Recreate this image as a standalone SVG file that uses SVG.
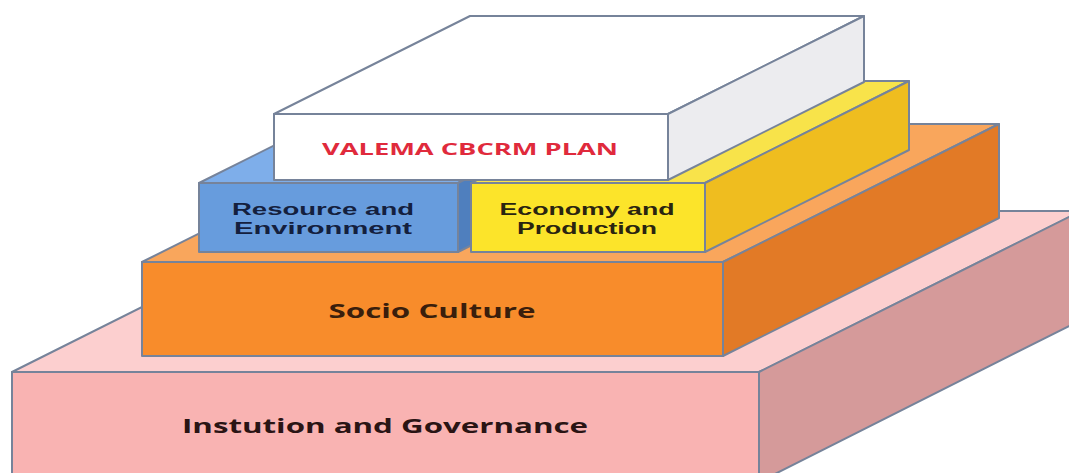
<svg xmlns="http://www.w3.org/2000/svg" width="1069" height="473" viewBox="0 0 1069 473">
  <style>
    .edge { stroke: #76839a; stroke-width: 2; stroke-linejoin: round; }
    .lbl { font-family: "Open Sans", "Liberation Sans", sans-serif; font-weight: bold; text-anchor: middle; }
    .lbl2 { font-family: "Liberation Sans", Arial, sans-serif; font-weight: bold; text-anchor: middle; font-size: 16px; }
  </style>
  <rect width="1069" height="473" fill="#ffffff"/>

  <!-- Base layer: institution and governance -->
  <g id="institution">
    <polygon class="edge" fill="#fccfcf" points="12,372 759,372 1081,211 334,211"/>
    <polygon class="edge" fill="#d59a9a" points="759,372 1081,211 1081,320 759,482"/>
    <polygon class="edge" fill="#f9b3b2" points="12,372 759,372 759,482 12,482"/>
    <text class="lbl" x="385" y="433" font-size="19" fill="#2a1414" textLength="406" lengthAdjust="spacingAndGlyphs">Instution and Governance</text>
  </g>

  <!-- Second layer: socio culture -->
  <g id="socio-culture">
    <polygon class="edge" fill="#f9a65c" points="142,262 723,262 999,124 418,124"/>
    <polygon class="edge" fill="#e27a26" points="723,262 999,124 999,218 723,356"/>
    <polygon class="edge" fill="#f88c2b" points="142,262 723,262 723,356 142,356"/>
    <text class="lbl" x="432" y="318" font-size="19" fill="#3a1e0c" textLength="207" lengthAdjust="spacingAndGlyphs">Socio Culture</text>
  </g>

  <!-- Third layer, left block -->
  <g id="resource-environment">
    <polygon class="edge" fill="#7eaeea" points="199,183 458,183 662,81 403,81"/>
    <polygon class="edge" fill="#4f7fbe" points="458,183 662,81 662,150 458,252"/>
    <polygon class="edge" fill="#679cdd" points="199,183 458,183 458,252 199,252"/>
    <text class="lbl2" x="323" y="215" fill="#14203e" textLength="182" lengthAdjust="spacingAndGlyphs">Resource and</text>
    <text class="lbl2" x="323" y="234" fill="#14203e" textLength="178" lengthAdjust="spacingAndGlyphs">Environment</text>
  </g>

  <!-- Third layer, right block -->
  <g id="economy-production">
    <polygon class="edge" fill="#f8e34a" points="471,183 705,183 909,81 675,81"/>
    <polygon class="edge" fill="#efbd1f" points="705,183 909,81 909,150 705,252"/>
    <polygon class="edge" fill="#fce42a" points="471,183 705,183 705,252 471,252"/>
    <text class="lbl2" x="587" y="215" fill="#2a2410" textLength="175" lengthAdjust="spacingAndGlyphs">Economy and</text>
    <text class="lbl2" x="587" y="234" fill="#2a2410" textLength="140" lengthAdjust="spacingAndGlyphs">Production</text>
  </g>

  <!-- Top layer: the plan -->
  <g id="cbcrm-plan">
    <polygon class="edge" fill="#ffffff" points="274,114 668,114 864,16 470,16"/>
    <polygon class="edge" fill="#ececef" points="668,114 864,16 864,82 668,180"/>
    <polygon class="edge" fill="#ffffff" points="274,114 668,114 668,180 274,180"/>
    <text class="lbl" x="470" y="155" font-size="16" fill="#e02a3c" textLength="296" lengthAdjust="spacingAndGlyphs">VALEMA CBCRM PLAN</text>
  </g>

  <!-- no connectors in this diagram -->
  <g id="connectors"/>
</svg>
